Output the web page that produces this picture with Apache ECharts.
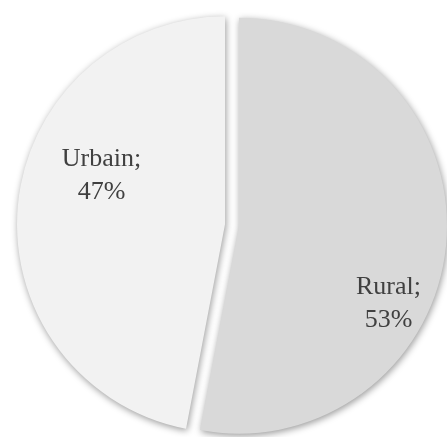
<!DOCTYPE html>
<html>
<head>
<meta charset="utf-8">
<script src="https://cdn.jsdelivr.net/npm/echarts@6/dist/echarts.min.js"></script>
<style>
  html, body { margin: 0; padding: 0; background: #ffffff; }
  #chart { width: 447px; height: 437px; }
</style>
</head>
<body>
<div id="chart"></div>
<script>
// Share of population by area type
const categories = ['Rural', 'Urbain'];
const shares = [53, 47];
const sliceColors = ['#d9d9d9', '#f2f2f2'];

// Nudges for the in-slice labels, relative to their default spot
const labelNudge = [[43, 68], [-17, -39]];

const chart = echarts.init(document.getElementById('chart'), null, { renderer: 'canvas' });

chart.setOption({
  animation: false,
  backgroundColor: '#ffffff',
  series: [{
    type: 'pie',
    center: [232, 225],
    radius: [0, 208],
    startAngle: 90,
    clockwise: true,
    selectedMode: 'multiple',
    selectedOffset: 7,
    emphasis: { disabled: true },
    itemStyle: {
      borderWidth: 0,
      shadowBlur: 7,
      shadowColor: 'rgba(0,0,0,0.4)',
      shadowOffsetX: 1,
      shadowOffsetY: 2
    },
    label: {
      show: true,
      position: 'inside',
      formatter: p => p.name + ';\n' + p.value + '%',
      fontFamily: '"Liberation Serif", "DejaVu Serif", serif',
      fontSize: 26,
      lineHeight: 33,
      color: '#404040',
      align: 'center'
    },
    labelLine: { show: false },
    labelLayout: params => ({
      dx: labelNudge[params.dataIndex][0],
      dy: labelNudge[params.dataIndex][1]
    }),
    data: categories.map((name, i) => ({
      name: name,
      value: shares[i],
      selected: true,
      itemStyle: { color: sliceColors[i] },
      select: { itemStyle: { color: sliceColors[i] } }
    }))
  }]
});
</script>
</body>
</html>
